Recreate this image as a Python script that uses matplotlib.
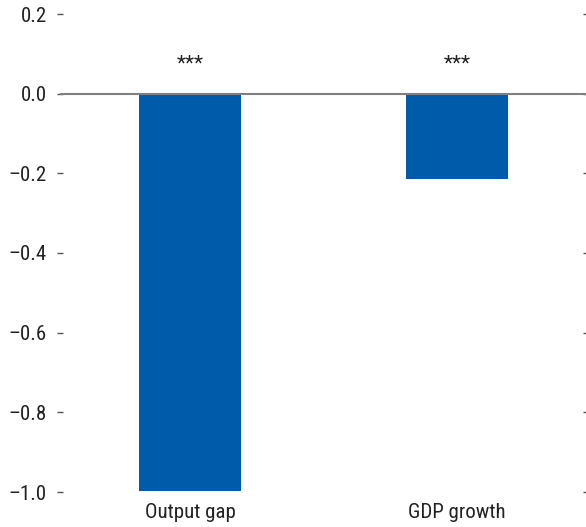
import matplotlib
matplotlib.use("Agg")
import matplotlib.pyplot as plt
from matplotlib import font_manager

categories = ["Output gap", "GDP growth"]
values = [-0.998, -0.215]
stars = ["***", "***"]
yticks = [0.2, 0.0, -0.2, -0.4, -0.6, -0.8, -1.0]

names = {f.name for f in font_manager.fontManager.ttflist}
fam = [f for f in ["Liberation Sans Narrow", "Roboto Condensed", "Liberation Sans"] if f in names] + ["DejaVu Sans"]
plt.rcParams['font.family'] = fam
plt.rcParams['axes.unicode_minus'] = True

fig = plt.figure(figsize=(5.86, 5.27), dpi=100)
ax = fig.add_axes([60/586, 1-492/527, 1-60/586, (492-14)/527])

x = list(range(len(categories)))
ax.bar(x, values, width=0.38, color="#005BAA", zorder=2)
ax.axhline(0, color="#808080", lw=1.5, zorder=3)
for xi, s in zip(x, stars):
    ax.text(xi, 0.075, s, ha="center", va="center", fontsize=15, color="#222222")

ax.set_xlim(-0.487, 1.483)
ax.set_ylim(-1.0, 0.2)
ax.set_yticks(yticks)
ax.set_yticklabels([f"{v:.1f}".replace("-", "\u2013") for v in yticks])
ax.set_xticks(x)
ax.set_xticklabels(categories)
for s in ax.spines.values():
    s.set_visible(False)
ax.tick_params(axis="y", direction="inout", length=5, width=1, color="#555555",
               labelsize=15, labelcolor="#222222", pad=7, right=True)
ax.tick_params(axis="x", length=0, labelsize=15, labelcolor="#222222", pad=8)

fig.savefig("out.png", dpi=100)
